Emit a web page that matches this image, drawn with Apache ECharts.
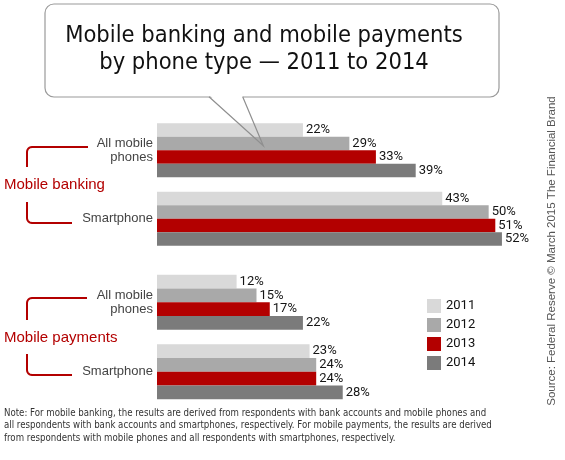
<!DOCTYPE html>
<html>
<head>
<meta charset="utf-8">
<style>
  html, body { margin: 0; padding: 0; background: #fff; }
  #chart { width: 565px; height: 460px; }
</style>
<script src="https://cdn.jsdelivr.net/npm/echarts@6/dist/echarts.min.js"></script>
</head>
<body>
<div id="chart"></div>
<script>
// data
var years = ['2011', '2012', '2013', '2014'];
var phoneTypes = ['All mobile\nphones', 'Smartphone'];
var bankingAll = [22, 29, 33, 39];
var bankingSmart = [43, 50, 51, 52];
var paymentsAll = [12, 15, 17, 22];
var paymentsSmart = [23, 24, 24, 28];
var yearColors = ['#d9d9d9', '#a9a9a9', '#b30000', '#7b7b7b'];

var COND = '"DejaVu Sans Condensed", "Liberation Sans Narrow", sans-serif';
var SANS = '"Liberation Sans", Arial, sans-serif';
var RED = '#b30000';

// rounded bracket as polyline
function bracket(x1, y1, cx, cy, x2, y2, r) {
    // from (x1,y1) horizontal to corner (cx,cy), then vertical to (x2,y2)
    var pts = [[x1, y1]];
    var dx = x1 > cx ? 1 : -1;
    var dy = y2 > cy ? 1 : -1;
    for (var i = 0; i <= 6; i++) {
        var a = i / 6 * Math.PI / 2;
        pts.push([cx + dx * r * (1 - Math.sin(a)), cy + dy * r * (1 - Math.cos(a))]);
    }
    pts.push([x2, y2]);
    return {
        type: 'polyline', z: 50,
        shape: { points: pts },
        style: { stroke: RED, lineWidth: 2, fill: null }
    };
}

function makeSeries(gridIdx, allArr, smartArr) {
    return years.map(function (y, i) {
        return {
            name: y,
            type: 'bar',
            xAxisIndex: gridIdx,
            yAxisIndex: gridIdx,
            data: [allArr[i], smartArr[i]],
            barGap: 0,
            barCategoryGap: '21%',
            itemStyle: { color: yearColors[i] },
            label: {
                show: true,
                position: 'right',
                distance: 3,
                formatter: '{c}%',
                fontFamily: 'Roboto, sans-serif',
                fontSize: 13,
                color: '#151515'
            }
        };
    });
}

var catAxis = function (gi) {
    return {
        gridIndex: gi,
        type: 'category',
        data: phoneTypes,
        inverse: true,
        axisLine: { show: false },
        axisTick: { show: false },
        splitLine: { show: false },
        axisLabel: {
            fontFamily: SANS,
            fontSize: 13,
            lineHeight: 14,
            color: '#444',
            margin: 4
        }
    };
};

var valAxis = function (gi) {
    return { gridIndex: gi, type: 'value', min: 0, max: 60, show: false };
};

var option = {
    animation: false,
    textStyle: { fontFamily: SANS },
    legend: {
        data: years,
        orient: 'vertical',
        left: 427,
        top: 299,
        padding: 0,
        itemWidth: 14,
        itemHeight: 14,
        itemGap: 5,
        icon: 'rect',
        textStyle: { fontFamily: 'Roboto, sans-serif', fontSize: 13, color: '#111' }
    },
    grid: [
        { left: 157, width: 398, top: 116, height: 137 },
        { left: 157, width: 398, top: 267.5, height: 139 }
    ],
    xAxis: [valAxis(0), valAxis(1)],
    yAxis: [catAxis(0), catAxis(1)],
    series: makeSeries(0, bankingAll, bankingSmart).concat(makeSeries(1, paymentsAll, paymentsSmart)),
    graphic: [
        // speech bubble
        {
            type: 'rect', z: 100,
            shape: { x: 45, y: 4, width: 454, height: 93, r: 9 },
            style: { fill: '#fff', stroke: '#9a9a9a', lineWidth: 1.2 }
        },
        {
            type: 'polygon', z: 101,
            shape: { points: [[209.8, 95.5], [242.2, 95.5], [243.5, 99], [213.5, 99]] },
            style: { fill: '#fff' }
        },
        {
            type: 'polyline', z: 102,
            shape: { points: [[209, 96.7], [263.3, 145.7], [242.7, 96.7]] },
            style: { stroke: '#8f8f8f', lineWidth: 1.2, fill: null }
        },
        {
            type: 'text', z: 103,
            x: 264, y: 49,
            style: {
                text: 'Mobile banking and mobile payments\nby phone type \u2014 2011 to 2014',
                fontFamily: COND, fontSize: 23.5, lineHeight: 27,
                fill: '#111',
                align: 'center', verticalAlign: 'middle',
                textAlign: 'center', textVerticalAlign: 'middle'
            }
        },
        // group labels and brackets
        {
            type: 'text', z: 50, x: 4, y: 185,
            style: {
                text: 'Mobile banking', fontFamily: SANS, fontSize: 15, fill: RED,
                verticalAlign: 'middle', textVerticalAlign: 'middle'
            }
        },
        {
            type: 'text', z: 50, x: 4, y: 338,
            style: {
                text: 'Mobile payments', fontFamily: SANS, fontSize: 15, fill: RED,
                verticalAlign: 'middle', textVerticalAlign: 'middle'
            }
        },
        bracket(88, 147, 27, 147, 27, 167, 5),
        bracket(72, 223, 27, 223, 27, 202, 5),
        bracket(87, 298, 27, 298, 27, 320, 5),
        bracket(72, 375, 27, 375, 27, 354, 5),
        // source
        {
            type: 'text', z: 50, x: 552, y: 251, rotation: Math.PI / 2,
            style: {
                text: 'Source: Federal Reserve \u00a9 March 2015 The Financial Brand',
                fontFamily: SANS, fontSize: 11.5, fill: '#555',
                align: 'center', verticalAlign: 'middle',
                textAlign: 'center', textVerticalAlign: 'middle'
            }
        },
        // note
        {
            type: 'text', z: 50, x: 4, y: 407,
            style: {
                text: 'Note: For mobile banking, the results are derived from respondents with bank accounts and mobile phones and\n' +
                      'all respondents with bank accounts and smartphones, respectively. For mobile payments, the results are derived\n' +
                      'from respondents with mobile phones and all respondents with smartphones, respectively.',
                fontFamily: COND, fontSize: 9.6, lineHeight: 12.5, fill: '#333'
            }
        }
    ]
};

var myChart = echarts.init(document.getElementById('chart'));
myChart.setOption(option);
</script>
</body>
</html>
